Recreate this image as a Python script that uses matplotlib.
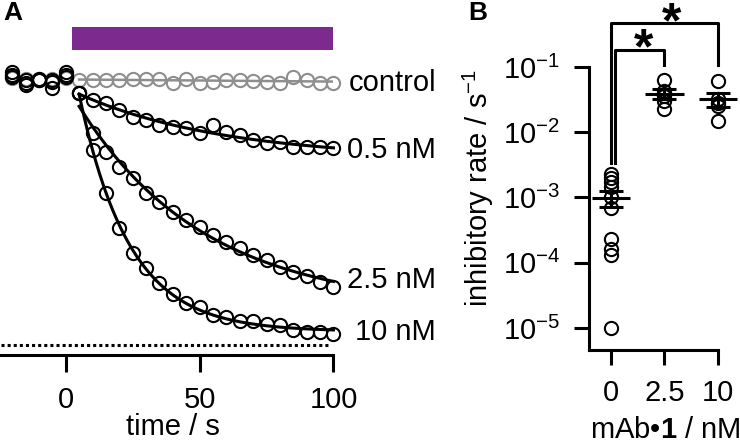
import numpy as np
import matplotlib
matplotlib.use('Agg')
import matplotlib.pyplot as plt
from matplotlib.ticker import NullLocator

plt.rcParams['font.family'] = 'Liberation Sans'
plt.rcParams['mathtext.fontset'] = 'custom'
plt.rcParams['mathtext.rm'] = 'Liberation Sans'
plt.rcParams['mathtext.it'] = 'Liberation Sans:italic'
plt.rcParams['mathtext.bf'] = 'Liberation Sans:bold'

# panel A: normalised current vs time
t_pre = [-20, -15, -10, -5, 0]
t_app = [5, 10, 15, 20, 25, 30, 35, 40, 45, 50, 55, 60, 65, 70, 75, 80, 85, 90, 95, 100]

pre_control = [1.008, 1.004, 1.004, 1.004, 1.008]
pre_05 = [1.030, 1.000, 1.000, 0.992, 1.030]
pre_25 = [1.011, 0.981, 1.004, 0.970, 1.011]
pre_10 = [1.019, 0.989, 1.000, 1.000, 1.019]

control = [1.000, 1.000, 1.000, 1.000, 1.004, 1.004, 1.004, 0.989, 1.004, 0.989,
           0.992, 1.000, 1.000, 0.996, 0.992, 0.989, 1.011, 1.000, 0.989, 0.989]
conc_05 = [0.951, 0.925, 0.913, 0.887, 0.860, 0.849, 0.830, 0.823, 0.819, 0.800,
           0.830, 0.804, 0.792, 0.774, 0.762, 0.766, 0.747, 0.747, 0.747, 0.743]
conc_25 = [0.951, 0.800, 0.728, 0.672, 0.630, 0.574, 0.540, 0.502, 0.472, 0.445,
           0.415, 0.389, 0.366, 0.340, 0.321, 0.294, 0.275, 0.260, 0.238, 0.219]
conc_10 = [0.951, 0.736, 0.574, 0.442, 0.347, 0.291, 0.234, 0.192, 0.158, 0.143,
           0.113, 0.106, 0.091, 0.091, 0.079, 0.075, 0.057, 0.049, 0.049, 0.042]

trace_names = ['control', '0.5 nM', '2.5 nM', '10 nM']
label_y = [0.989, 0.736, 0.245, 0.049]

bar_start, bar_end = 2.5, 100

# panel B: inhibitory rates
conc_labels = ['0', '2.5', '10']
rate_0 = [2.3e-3, 2.0e-3, 1.75e-3, 1.45e-3, 1.0e-3, 7.0e-4, 2.3e-4, 1.6e-4, 1.3e-4, 1.0e-5]
rate_25 = [6.3e-2, 4.3e-2, 3.6e-2, 3.0e-2, 2.3e-2]
rate_10 = [6.0e-2, 3.2e-2, 2.8e-2, 2.5e-2, 1.5e-2]

purple = '#7d2a8e'
grey = '#8e8e8e'
lw = 2.2
ms = 9.5
mew = 1.5
fs = 21


def exp_fit(t, y):
    t = np.asarray(t, float)
    y = np.asarray(y, float)
    best = None
    for tau in np.linspace(2, 400, 2000):
        e = np.exp(-(t - t[0]) / tau)
        A = np.vstack([np.ones_like(e), e]).T
        coef = np.linalg.lstsq(A, y, rcond=None)[0]
        err = np.sum((A @ coef - y) ** 2)
        if best is None or err < best[0]:
            best = (err, tau, coef)
    _, tau, (c, a) = best
    tt = np.linspace(t[0], t[-1], 300)
    return tt, c + a * np.exp(-(tt - t[0]) / tau)


fig = plt.figure(figsize=(7.4, 4.45), dpi=100)

# ---------- A ----------
ax = fig.add_axes([0.002, 0.2022, 0.4486, 0.7528])
ax.set_xlim(-24, 100)
ax.set_ylim(-0.038, 1.226)

ax.fill_between([bar_start, bar_end], 1.113, 1.200, color=purple, lw=0)
ax.plot([-24, 99], [0, 0], color='k', lw=lw, ls=(0, (1, 1)))

# control (grey)
p = np.polyfit(t_app, control, 1)
ax.plot(t_app, np.polyval(p, t_app), color=grey, lw=1.8)
ax.plot(t_app, control, 'o', mfc='none', mec=grey, ms=ms, mew=mew, clip_on=False)
ax.plot(t_pre, pre_control, 'o', mfc='none', mec=grey, ms=ms, mew=mew)

for pre, vals in [(pre_05, conc_05), (pre_25, conc_25), (pre_10, conc_10)]:
    tt, fit = exp_fit(t_app, vals)
    ax.plot(tt, fit, color='k', lw=lw, clip_on=False)
    ax.plot(t_app, vals, 'o', mfc='none', mec='k', ms=ms, mew=mew, clip_on=False)
    ax.plot(t_pre, pre, 'o', mfc='none', mec='k', ms=ms, mew=mew)

for name, y in zip(trace_names, label_y):
    ax.text(138.4, y, name, ha='right', va='center', fontsize=fs, clip_on=False)

for s in ['left', 'top', 'right']:
    ax.spines[s].set_visible(False)
ax.spines['bottom'].set_linewidth(lw)
ax.set_yticks([])
ax.set_xticks([0, 50, 100])
ax.tick_params(axis='x', length=12, width=lw, labelsize=fs, pad=10)
ax.text(0.518, -0.215, 'time / s', transform=ax.transAxes, ha='center', va='center', fontsize=fs)

# ---------- B ----------
bx = fig.add_axes([0.7959, 0.2135, 0.1743, 0.6360])
bx.set_yscale('log')
bx.set_xlim(-0.41, 2.0)
bx.set_ylim(10 ** -5.337, 10 ** -1)

for i, vals in enumerate([rate_0, rate_25, rate_10]):
    vals = np.asarray(vals)
    bx.plot([i] * len(vals), vals, 'o', mfc='none', mec='k', ms=ms, mew=mew, clip_on=False)
    m = vals.mean()
    sem = vals.std(ddof=1) / np.sqrt(len(vals))
    bx.hlines(m, i - 0.36, i + 0.36, color='k', lw=lw, clip_on=False)
    eb = bx.errorbar(i, m, yerr=sem, fmt='none', ecolor='k', elinewidth=lw,
                     capsize=8.6, capthick=lw)
    for art in eb.lines[1] + eb.lines[2]:
        art.set_clip_on(False)

# significance brackets
bx.plot([0.0, 0.0, 2.0, 2.0], [3.4e-3, 0.472, 0.472, 0.107], color='k', lw=lw, clip_on=False)
bx.plot([0.07, 0.07, 1.0, 1.0], [3.4e-3, 0.182, 0.182, 0.107], color='k', lw=lw, clip_on=False)
bx.text(0.62, 0.112, '*', ha='center', va='baseline', fontsize=36, fontweight='bold', clip_on=False)
bx.text(1.14, 0.285, '*', ha='center', va='baseline', fontsize=36, fontweight='bold', clip_on=False)

for s in ['top', 'right']:
    bx.spines[s].set_visible(False)
bx.spines['left'].set_linewidth(lw)
bx.spines['bottom'].set_linewidth(lw)
bx.set_yticks([1e-5, 1e-4, 1e-3, 1e-2, 1e-1])
bx.yaxis.set_minor_locator(NullLocator())
bx.set_xticks([0, 1, 2])
bx.set_xticklabels(conc_labels)
bx.tick_params(axis='both', length=10.8, width=lw, labelsize=fs, pad=10)
bx.text(-0.86, 0.572, 'inhibitory rate / s$^{-1}$', transform=bx.transAxes, rotation=90,
        ha='center', va='center', fontsize=fs)
bx.text(0.589, -0.283, 'mAb\u2022$\\mathbf{1}$ / nM', transform=bx.transAxes,
        ha='center', va='center', fontsize=fs)

fig.text(0.005, 0.998, 'A', ha='left', va='top', fontsize=19, fontweight='bold')
fig.text(0.633, 0.998, 'B', ha='left', va='top', fontsize=19, fontweight='bold')

fig.savefig('out.png', dpi=100)
